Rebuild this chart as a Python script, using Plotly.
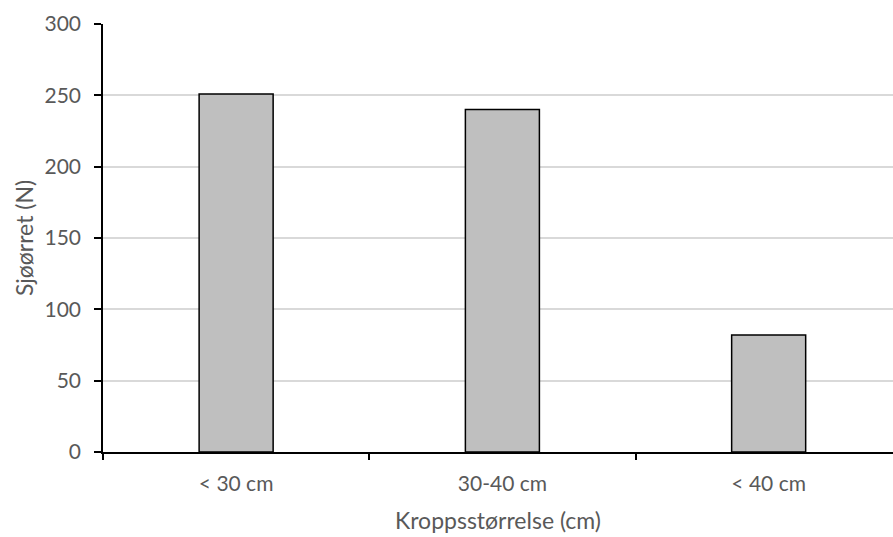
import plotly.graph_objects as go

categories = ["< 30 cm", "30-40 cm", "< 40 cm"]
values = [251, 240, 82]
y_ticks = [0, 50, 100, 150, 200, 250, 300]

fig = go.Figure(go.Bar(
    x=categories, y=values,
    marker=dict(color="#bfbfbf", line=dict(color="#000000", width=1.5)),
    width=0.278,
))

font_family = "Lato, 'Open Sans', sans-serif"
fig.update_layout(
    width=893, height=537,
    margin=dict(l=103, r=0, t=24, b=85),
    plot_bgcolor="white", paper_bgcolor="white",
    showlegend=False,
    font=dict(family=font_family, size=21, color="#595959"),
)
fig.update_xaxes(
    range=[-0.5, 2.467],
    showline=True, linecolor="#000000", linewidth=1.5,
    ticks="outside", tickson="boundaries", ticklen=6, tickcolor="#000000", tickwidth=1.5,
    tickfont=dict(size=21, color="#595959"),
    ticklabelstandoff=12,
    title=dict(text="Kroppsstørrelse (cm)", font=dict(size=23, color="#595959"), standoff=19),
    showgrid=False,
)
fig.update_yaxes(
    range=[0, 300], tickvals=y_ticks,
    showline=True, linecolor="#000000", linewidth=1.5,
    ticks="outside", ticklen=7, tickcolor="#000000", tickwidth=1.5,
    tickfont=dict(size=21, color="#595959"),
    ticklabelstandoff=9,
    showgrid=True, gridcolor="#d9d9d9", gridwidth=1.5,
    zeroline=False,
    title=dict(text="Sjøørret (N)", font=dict(size=23, color="#595959"), standoff=4),
)
fig.write_html("out.html")
